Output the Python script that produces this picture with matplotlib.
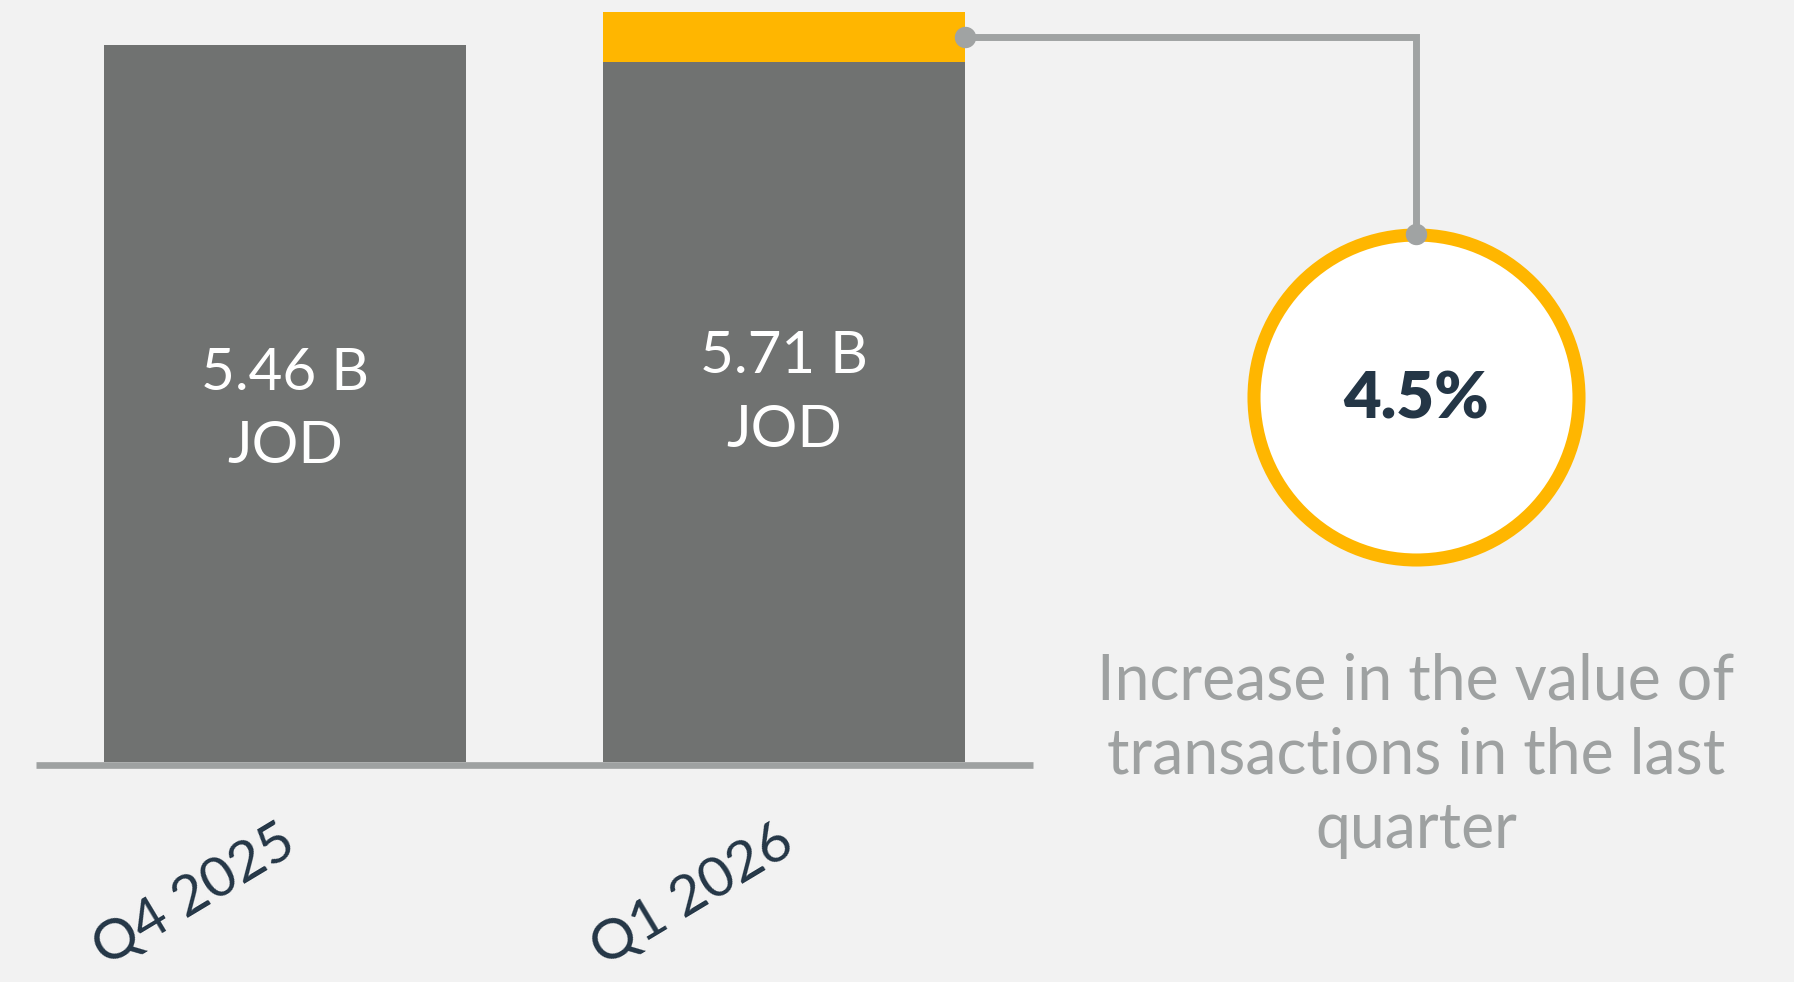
import matplotlib
matplotlib.use("Agg")
import matplotlib.pyplot as plt

# data
quarters = ["Q4 2025", "Q1 2026"]
values = [5.46, 5.71]          # billion JOD
base_part = [5.46, 5.33]       # grey part of each bar
increase_part = [0.0, 0.38]    # yellow part on top
pct_change = 4.5
caption = "Increase in the value of\ntransactions in the last\nquarter"

bg = "#f2f2f2"
grey_bar = "#707271"
yellow = "#ffb600"
line_grey = "#9ea1a1"
navy = "#243646"

plt.rcParams["font.family"] = ["Lato", "DejaVu Sans"]

fig = plt.figure(figsize=(17.94, 9.82), dpi=100, facecolor=bg)
ax = fig.add_axes([0, 0, 1, 1])
ax.set_facecolor(bg)
ax.set_xlim(-0.572, 3.025)
ax.set_ylim(-1.674, 5.799)
ax.axis("off")

x = list(range(len(quarters)))
w = 0.726
ax.bar(x, base_part, width=w, color=grey_bar, zorder=2)
ax.bar(x, increase_part, width=w, bottom=base_part, color=yellow, zorder=2)
ax.hlines(-0.025, -0.5, 1.5, color=line_grey, lw=4.8, zorder=3)

# labels inside bars
for i, v in enumerate(values):
    ax.text(i, v / 2 - 0.05, f"{v:.2f} B\nJOD", color="white", fontsize=42,
            ha="center", va="center", linespacing=1.47, zorder=4)

# rotated category labels
for i, q in enumerate(quarters):
    ax.text(i - 0.015, -0.41, q, color=navy, fontsize=41, rotation=31,
            rotation_mode="anchor", ha="right", va="top")

# connector from the increase segment to the circle
cx, cy = 2.267, 2.778
x0 = x[1] + w / 2
y0 = base_part[1] + increase_part[1] / 2
circ_top = cy + 162.5 / 131.4
ax.plot([x0, cx, cx], [y0, y0, circ_top], color="#a0a3a3", lw=5, zorder=5,
        solid_joinstyle="miter")
ax.plot([x0, cx], [y0, circ_top], "o", color="#a0a3a3", ms=14.4, zorder=7, lw=0)

ax.scatter([cx], [cy], s=234 ** 2, facecolor="white", edgecolor=yellow,
           linewidth=9.4, zorder=6)
ax.text(cx, cy - 0.025, f"{pct_change}%", color=navy, fontsize=47, fontweight="heavy",
        ha="center", va="center", zorder=8)

ax.text(cx, -0.654, caption, color=line_grey, fontsize=45,
        ha="center", va="baseline", linespacing=1.345, multialignment="center")

fig.savefig("out.png", dpi=100, facecolor=bg)
